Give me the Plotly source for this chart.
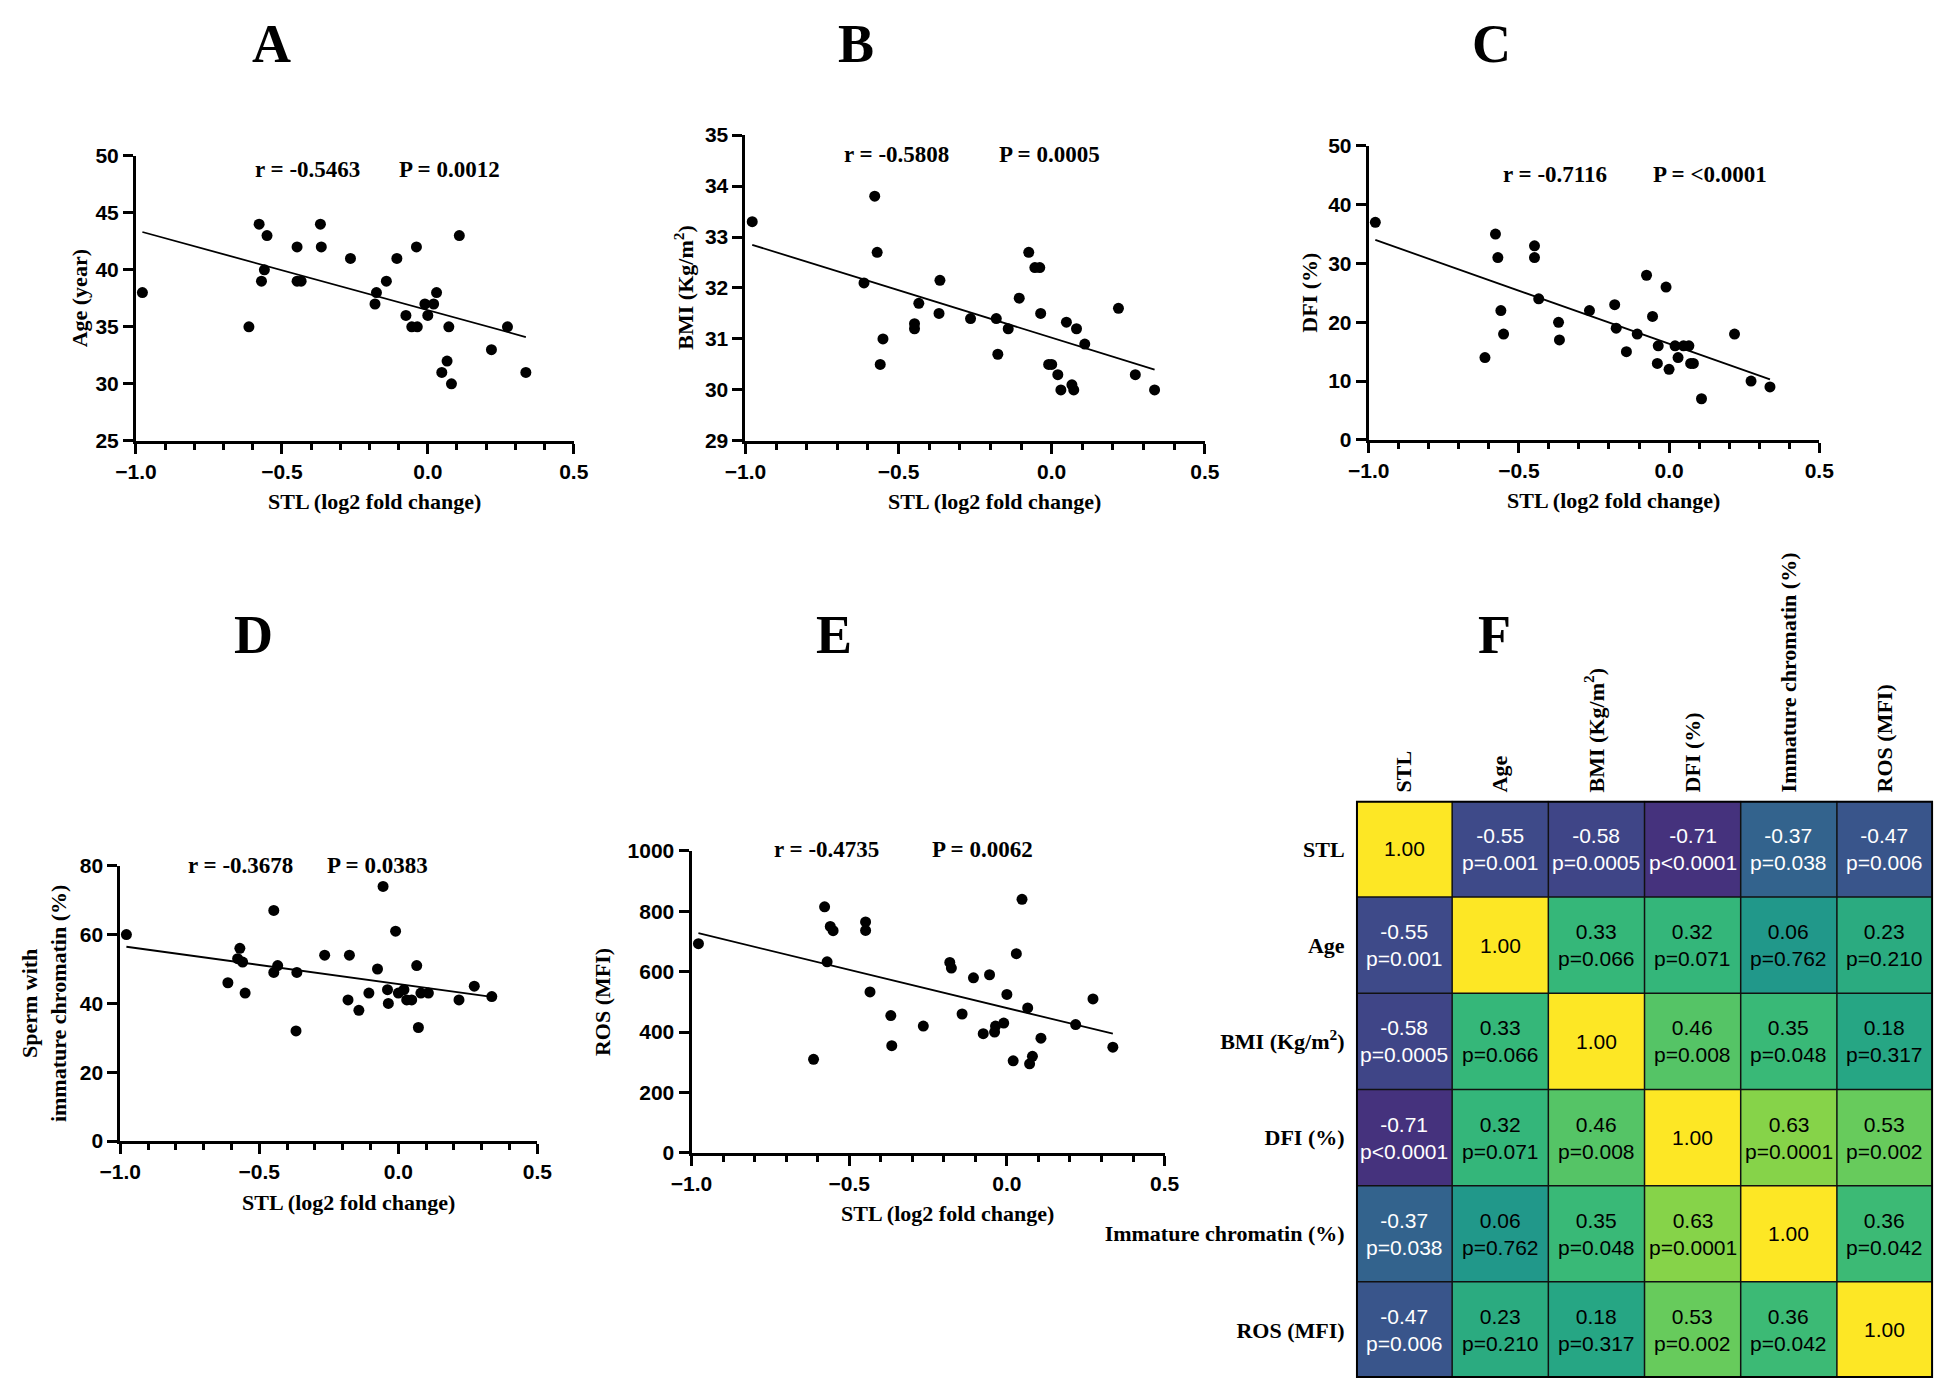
import numpy as np
import plotly.graph_objects as go

W, H = 1944, 1386

# ---------------- data ----------------
stl = [-0.978, -0.613, -0.578, -0.570, -0.560, -0.551, -0.448, -0.448, -0.434, -0.368,
       -0.365, -0.265, -0.181, -0.176, -0.142, -0.106, -0.075, -0.055, -0.039, -0.036,
       -0.010, 0.000, 0.020, 0.030, 0.048, 0.066, 0.072, 0.081, 0.108, 0.218, 0.273, 0.336]

age = [38, 35, 44, 39, 40, 43, 42, 39, 39, 44, 42, 41, 37, 38, 39, 41,
       36, 35, 42, 35, 37, 36, 37, 38, 31, 32, 35, 30, 43, 33, 35, 31]

bmi = [33.3, 32.1, 33.8, 32.7, 30.5, 31.0, 31.3, 31.2, 31.7, 31.5, 32.15, 31.4, 31.4, 30.7,
       31.2, 31.8, 32.7, 32.4, 32.4, 31.5, 30.5, 30.5, 30.3, 30.0, 31.33, 30.1, 30.0, 31.2,
       30.9, 31.6, 30.3, 30.0]

dfi = [37, 14, 35, 31, 22, 18, 33, 31, 24, 20, 17, 22, 23, 19, 15, 18,
       28, 21, 13, 16, 26, 12, 16, 14, 16, 16, 13, 13, 7, 18, 10, 9]

immature = [60, 46, 53, 56, 52, 43, 67, 49, 51, 32, 49, 54, 41, 54, 38, 43,
            50, 74, 44, 40, 61, 43, 44, 41, 41, 51, 33, 43, 43, 41, 45, 42]

ros = [693, 310, 815, 633, 750, 736, 765, 737, 533, 455, 355, 420, 631, 612, 460, 580,
       395, 590, 400, 420, 430, 525, 305, 660, 840, 480, 295, 320, 380, 425, 510, 350]

r_texts = ["r = -0.5463", "r = -0.5808", "r = -0.7116", "r = -0.3678", "r = -0.4735"]
p_texts = ["P = 0.0012", "P = 0.0005", "P = <0.0001", "P = 0.0383", "P = 0.0062"]

y_titles = ["Age (year)", "BMI (Kg/m<sup>2</sup>)", "DFI (%)",
            "Sperm with<br>immature chromatin (%)", "ROS (MFI)"]
x_title = "STL (log2 fold change)"
panel_letters = ["A", "B", "C", "D", "E", "F"]

y_ranges = [(25, 50), (29, 35), (0, 50), (0, 80), (0, 1000)]
y_dticks = [5, 1, 10, 20, 200]

hm_labels = ["STL", "Age", "BMI (Kg/m<sup>2</sup>)", "DFI (%)", "Immature chromatin (%)", "ROS (MFI)"]
hm_r = [
    [1.00, -0.55, -0.58, -0.71, -0.37, -0.47],
    [-0.55, 1.00, 0.33, 0.32, 0.06, 0.23],
    [-0.58, 0.33, 1.00, 0.46, 0.35, 0.18],
    [-0.71, 0.32, 0.46, 1.00, 0.63, 0.53],
    [-0.37, 0.06, 0.35, 0.63, 1.00, 0.36],
    [-0.47, 0.23, 0.18, 0.53, 0.36, 1.00],
]
hm_p = [
    ["", "p=0.001", "p=0.0005", "p<0.0001", "p=0.038", "p=0.006"],
    ["p=0.001", "", "p=0.066", "p=0.071", "p=0.762", "p=0.210"],
    ["p=0.0005", "p=0.066", "", "p=0.008", "p=0.048", "p=0.317"],
    ["p<0.0001", "p=0.071", "p=0.008", "", "p=0.0001", "p=0.002"],
    ["p=0.038", "p=0.762", "p=0.048", "p=0.0001", "", "p=0.042"],
    ["p=0.006", "p=0.210", "p=0.317", "p=0.002", "p=0.042", ""],
]

# ---------------- layout geometry (pixels) ----------------
def px(x):
    return x / W

def py(y):
    return 1 - y / H

# (x_left, x_right, y_top, y_bottom)
boxes = [(109, 555, 138, 428), (730, 1198, 117, 428), (1365, 1824, 128, 427),
         (93, 518, 860, 1140), (675, 1157, 845, 1152)]
hm_box = (1352, 1940, 794, 1381)

r_pos = [(228, 152), (828, 137), (1500, 157), (160, 860), (757, 843)]
p_pos = [(375, 152), (986, 137), (1653, 157), (302, 860), (918, 843)]
letter_pos = [(247, 24), (843, 24), (1490, 24), (229, 625), (820, 625), (1493, 625)]
ytitle_x = [51, 667, 1305, 16, 585]

SERIF = "Liberation Serif"
SANS = "Liberation Sans"

fig = go.Figure()
ys = [age, bmi, dfi, immature, ros]
annotations = []

for i in range(5):
    n = i + 1
    xa, ya = f"x{n}", f"y{n}"
    x = np.array(stl)
    y = np.array(ys[i], dtype=float)
    slope, inter = np.polyfit(x, y, 1)
    xl = np.array([x.min(), x.max()])
    fig.add_trace(go.Scatter(x=xl, y=inter + slope * xl, mode="lines",
                             line=dict(color="black", width=1.8),
                             xaxis=xa, yaxis=ya, showlegend=False, hoverinfo="skip",
                             cliponaxis=False))
    fig.add_trace(go.Scatter(x=x, y=y, mode="markers",
                             marker=dict(color="black", size=11),
                             xaxis=xa, yaxis=ya, showlegend=False, cliponaxis=False))
    x0, x1, y0, y1 = boxes[i]
    axis_common = dict(showline=True, linecolor="black", linewidth=3, ticks="outside",
                       ticklen=10, tickwidth=3, tickcolor="black", showgrid=False,
                       zeroline=False, tickprefix="<b>", ticksuffix="</b>",
                       tickfont=dict(family=SANS, size=21, color="black"))
    fig.update_layout(**{
        f"xaxis{n}": dict(domain=[px(x0), px(x1)], anchor=ya, range=[-1, 0.5],
                          tick0=-1, dtick=0.5, tickformat=".1f",
                          minor=dict(ticks="outside", dtick=0.1, ticklen=6, tickwidth=2.5,
                                     tickcolor="black", showgrid=False),
                          **axis_common),
        f"yaxis{n}": dict(domain=[py(y1), py(y0)], anchor=xa, range=list(y_ranges[i]),
                          tick0=y_ranges[i][0], dtick=y_dticks[i], **axis_common),
    })
    # axis titles
    annotations.append(dict(text=f"<b>{x_title}</b>", x=px((x0 + x1) / 2 + 20), y=py(y1 + 62),
                            xref="paper", yref="paper", showarrow=False,
                            font=dict(family=SERIF, size=22, color="black"),
                            xanchor="center", yanchor="middle"))
    annotations.append(dict(text=f"<b>{y_titles[i]}</b>", x=px(ytitle_x[i]), y=py((y0 + y1) / 2),
                            xref="paper", yref="paper", showarrow=False, textangle=-90,
                            font=dict(family=SERIF, size=22, color="black"),
                            xanchor="center", yanchor="middle"))
    annotations.append(dict(text=f"<b>{r_texts[i]}</b>", x=px(r_pos[i][0]), y=py(r_pos[i][1]),
                            xref="paper", yref="paper", showarrow=False,
                            font=dict(family=SERIF, size=23, color="black"),
                            xanchor="left", yanchor="middle"))
    annotations.append(dict(text=f"<b>{p_texts[i]}</b>", x=px(p_pos[i][0]), y=py(p_pos[i][1]),
                            xref="paper", yref="paper", showarrow=False,
                            font=dict(family=SERIF, size=23, color="black"),
                            xanchor="left", yanchor="middle"))

for k, L in enumerate(panel_letters):
    annotations.append(dict(text=f"<b>{L}</b>", x=px(letter_pos[k][0]), y=py(letter_pos[k][1]),
                            xref="paper", yref="paper", showarrow=False,
                            font=dict(family=SERIF, size=54, color="black"),
                            xanchor="center", yanchor="middle"))

# ---------------- heatmap F ----------------
idx = list(range(6))
fig.add_trace(go.Heatmap(z=hm_r, x=idx, y=idx, colorscale="Viridis", zmin=-1, zmax=1,
                         showscale=False, xaxis="x6", yaxis="y6", hoverinfo="skip",
                         xgap=0, ygap=0))
hx0, hx1, hy0, hy1 = hm_box
lab_font = dict(family=SERIF, size=22, color="black")
fig.update_layout(
    xaxis6=dict(domain=[px(hx0), px(hx1)], anchor="y6", side="top", range=[-0.5, 5.5],
                tickmode="array", tickvals=idx, ticktext=[f"<b>{t}</b>" for t in hm_labels],
                tickangle=-90, ticks="outside", ticklen=3, tickcolor="rgba(0,0,0,0)",
                showgrid=False, zeroline=False, showline=False, tickfont=lab_font),
    yaxis6=dict(domain=[py(hy1), py(hy0)], anchor="x6", range=[5.5, -0.5],
                tickmode="array", tickvals=idx, ticktext=[f"<b>{t}</b>" for t in hm_labels],
                ticks="outside", ticklen=6, tickcolor="rgba(0,0,0,0)",
                showgrid=False, zeroline=False, showline=False, tickfont=lab_font),
)

shapes = []
for k in range(1, 6):
    shapes.append(dict(type="line", xref="x6", yref="y6", x0=k - 0.5, x1=k - 0.5,
                       y0=-0.5, y1=5.5, line=dict(color="#111111", width=1.5)))
    shapes.append(dict(type="line", xref="x6", yref="y6", y0=k - 0.5, y1=k - 0.5,
                       x0=-0.5, x1=5.5, line=dict(color="#111111", width=1.5)))
shapes.append(dict(type="rect", xref="x6", yref="y6", x0=-0.5, x1=5.5, y0=-0.5, y1=5.5,
                   line=dict(color="black", width=4)))

for i in range(6):
    for j in range(6):
        v = hm_r[i][j]
        txt = f"{v:.2f}" if i == j else f"{v:.2f}<br>{hm_p[i][j]}"
        col = "white" if v < 0 else "black"
        annotations.append(dict(text=txt, x=j, y=i, xref="x6", yref="y6", showarrow=False,
                                font=dict(family=SANS, size=21, color=col),
                                xanchor="center", yanchor="middle"))

fig.update_layout(width=W, height=H, margin=dict(l=0, r=0, t=0, b=0),
                  paper_bgcolor="white", plot_bgcolor="white",
                  annotations=annotations, shapes=shapes, showlegend=False)

fig.write_html("out.html")
